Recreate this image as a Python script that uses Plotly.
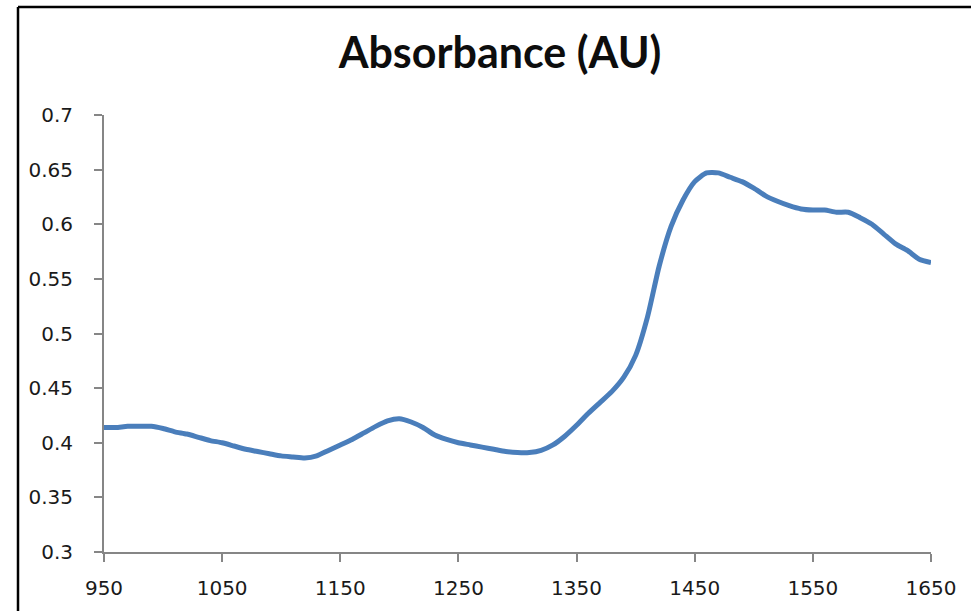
import plotly.graph_objects as go

# wavelength (nm) and absorbance
wavelength = [950, 960, 970, 980, 990, 1000, 1010, 1020, 1030, 1040,
              1050, 1060, 1070, 1080, 1090, 1100, 1110, 1120, 1130, 1140,
              1150, 1160, 1170, 1180, 1190, 1200, 1210, 1220, 1230, 1240,
              1250, 1260, 1270, 1280, 1290, 1300, 1310, 1320, 1330, 1340,
              1350, 1360, 1370, 1380, 1390, 1400, 1410, 1420, 1430, 1440,
              1450, 1460, 1470, 1480, 1490, 1500, 1510, 1520, 1530, 1540,
              1550, 1560, 1570, 1580, 1590, 1600, 1610, 1620, 1630, 1640,
              1650]
absorbance = [0.414, 0.414, 0.415, 0.415, 0.415, 0.413, 0.410, 0.408, 0.405, 0.402,
              0.400, 0.397, 0.394, 0.392, 0.390, 0.388, 0.387, 0.386, 0.388, 0.393,
              0.398, 0.403, 0.409, 0.415, 0.420, 0.422, 0.419, 0.414, 0.407, 0.403,
              0.400, 0.398, 0.396, 0.394, 0.392, 0.391, 0.391, 0.393, 0.398, 0.406,
              0.416, 0.427, 0.437, 0.447, 0.460, 0.480, 0.515, 0.562, 0.598, 0.622,
              0.639, 0.647, 0.647, 0.643, 0.639, 0.633, 0.626, 0.621, 0.617, 0.614,
              0.613, 0.613, 0.611, 0.611, 0.606, 0.600, 0.591, 0.582, 0.576, 0.568,
              0.565]

x_ticks = [950, 1050, 1150, 1250, 1350, 1450, 1550, 1650]
y_ticks = [0.3, 0.35, 0.4, 0.45, 0.5, 0.55, 0.6, 0.65, 0.7]
y_labels = ['0.3', '0.35', '0.4', '0.45', '0.5', '0.55', '0.6', '0.65', '0.7']

W, H = 971, 611
ML, MR, MT, MB = 104, 40, 115, 59
pw, ph = W - ML - MR, H - MT - MB

fig = go.Figure()
fig.add_trace(go.Scatter(
    x=wavelength, y=absorbance, mode='lines',
    line=dict(color='#4a7ebb', width=5, shape='spline', smoothing=0.6),
    showlegend=False, hoverinfo='x+y'
))

axis_style = dict(
    showline=True, linecolor='#868686', linewidth=2,
    ticks='outside', ticklen=8, tickwidth=2, tickcolor='#868686',
    showgrid=False, zeroline=False,
    tickfont=dict(family='DejaVu Sans', size=20, color='#1a1a1a'),
)

fig.update_xaxes(range=[950, 1650], tickvals=x_ticks, ticklabelstandoff=9, **axis_style)
fig.update_yaxes(range=[0.3, 0.7], tickvals=y_ticks, ticktext=y_labels,
                 ticklabelstandoff=17, **axis_style)

# chart frame (black border, cut off at right/bottom like the reference)
fx0 = (18 - ML) / pw
fy1 = (H - MB - 7) / ph
fig.add_shape(type='line', xref='paper', yref='paper', x0=fx0, x1=2, y0=fy1, y1=fy1,
              line=dict(color='black', width=2.5))
fig.add_shape(type='line', xref='paper', yref='paper', x0=fx0, x1=fx0, y0=fy1, y1=-1,
              line=dict(color='black', width=2.5))

fig.update_layout(
    width=W, height=H,
    margin=dict(l=ML, r=MR, t=MT, b=MB),
    paper_bgcolor='white', plot_bgcolor='white',
    title=dict(text='<b>Absorbance (AU)</b>', x=500 / W, xanchor='center',
               y=1 - 53 / H, yanchor='middle', yref='container',
               font=dict(family='Lato', size=43, color='#0d0d0d')),
)

# drop the page's default body margin so the figure sits at the window origin
fig.write_html('out.html', config={'displayModeBar': False},
               post_script="document.body.style.margin='0px';")
